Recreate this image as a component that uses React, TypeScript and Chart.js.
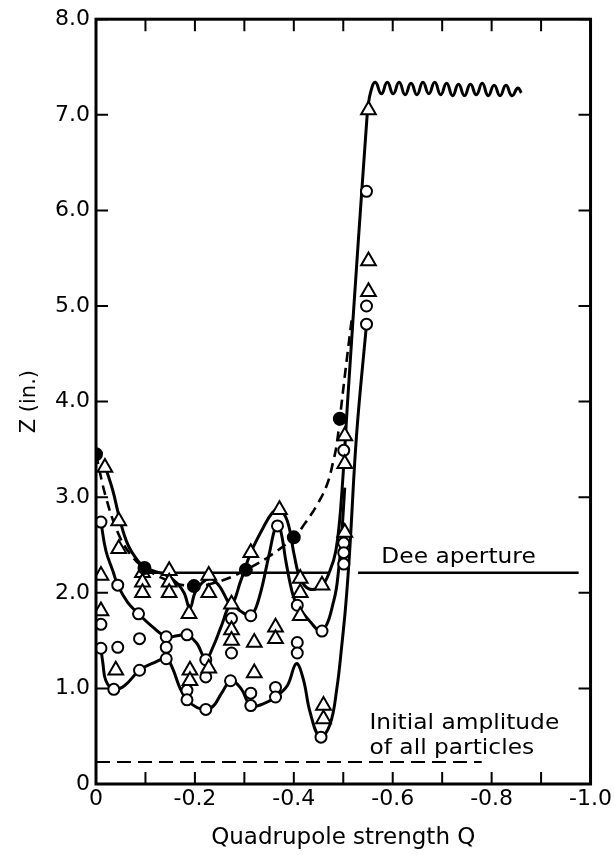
import { useEffect, useRef } from 'react';
import { Chart, registerables } from 'chart.js';

Chart.register(...registerables);

type P = [number, number];

// ---- axis ticks ----
const xTickValues = [0, -0.2, -0.4, -0.6, -0.8, -1.0];
const xTickLabels = ['0', '-0.2', '-0.4', '-0.6', '-0.8', '-1.0'];
const xTickMarks = [0, -0.1, -0.2, -0.3, -0.4, -0.5, -0.6, -0.7, -0.8, -0.9, -1.0];
const yTickValues = [0, 1, 2, 3, 4, 5, 6, 7, 8];
const yTickLabels = ['0', '1.0', '2.0', '3.0', '4.0', '5.0', '6.0', '7.0', '8.0'];

// ---- curves (Q, Z) ----
const topCurve: P[] = [
  [-0.018, 3.33], [-0.034, 3.07], [-0.048, 2.77], [-0.064, 2.51], [-0.084, 2.34],
  [-0.1, 2.26], [-0.144, 2.18], [-0.164, 2.1], [-0.178, 2.0], [-0.19, 1.84],
  [-0.202, 2.02], [-0.228, 2.15], [-0.248, 2.08], [-0.273, 1.89], [-0.293, 2.13],
  [-0.313, 2.42], [-0.337, 2.67], [-0.357, 2.84], [-0.371, 2.87], [-0.387, 2.75],
  [-0.401, 2.39], [-0.413, 2.15], [-0.431, 2.04], [-0.457, 2.08], [-0.473, 2.23],
  [-0.485, 2.44], [-0.495, 2.9], [-0.51, 4.1], [-0.53, 5.65], [-0.549, 7.05],
];
const topWiggle: P[] = [
  [-0.549, 7.05], [-0.556, 7.25], [-0.565, 7.34], [-0.577, 7.22], [-0.589, 7.34],
  [-0.601, 7.22], [-0.613, 7.34], [-0.625, 7.21], [-0.637, 7.33], [-0.649, 7.21],
  [-0.661, 7.34], [-0.673, 7.22], [-0.685, 7.34], [-0.697, 7.21], [-0.709, 7.33],
  [-0.721, 7.2], [-0.733, 7.32], [-0.745, 7.2], [-0.757, 7.32], [-0.769, 7.21],
  [-0.781, 7.33], [-0.793, 7.2], [-0.805, 7.31], [-0.817, 7.2], [-0.829, 7.31],
  [-0.841, 7.2], [-0.853, 7.28], [-0.86, 7.23],
];
const middleCurve: P[] = [
  [-0.01, 2.74], [-0.02, 2.44], [-0.034, 2.23], [-0.044, 2.08], [-0.064, 1.9],
  [-0.086, 1.78], [-0.115, 1.64], [-0.142, 1.54], [-0.164, 1.55], [-0.184, 1.56],
  [-0.204, 1.47], [-0.222, 1.31], [-0.238, 1.45], [-0.254, 1.66], [-0.272, 1.87],
  [-0.292, 1.81], [-0.313, 1.76], [-0.33, 1.95], [-0.35, 2.4], [-0.364, 2.7],
  [-0.372, 2.68], [-0.385, 2.3], [-0.398, 1.98], [-0.407, 1.87], [-0.431, 1.71],
  [-0.457, 1.6], [-0.481, 1.92], [-0.491, 2.26], [-0.497, 2.62], [-0.503, 3.1],
];
const lowerCurve: P[] = [
  [-0.01, 1.42], [-0.014, 1.26], [-0.02, 1.08], [-0.036, 0.99], [-0.058, 1.03],
  [-0.088, 1.19], [-0.118, 1.27], [-0.142, 1.31], [-0.154, 1.22], [-0.17, 1.0],
  [-0.184, 0.88], [-0.204, 0.8], [-0.222, 0.78], [-0.238, 0.82], [-0.254, 0.95],
  [-0.273, 1.08], [-0.293, 1.0], [-0.313, 0.82], [-0.339, 0.84], [-0.363, 0.91],
  [-0.387, 1.03], [-0.405, 1.26], [-0.419, 1.1], [-0.433, 0.75], [-0.453, 0.49],
  [-0.473, 0.62], [-0.487, 1.0], [-0.497, 1.45], [-0.505, 1.87], [-0.513, 2.44],
  [-0.527, 3.66], [-0.547, 4.81],
];
const dashedCurve: P[] = [
  [0, 3.45], [-0.02, 3.0], [-0.045, 2.62], [-0.07, 2.4], [-0.098, 2.26],
  [-0.15, 2.12], [-0.198, 2.07], [-0.25, 2.12], [-0.303, 2.24], [-0.35, 2.38],
  [-0.4, 2.58], [-0.423, 2.73], [-0.447, 2.92], [-0.467, 3.13], [-0.48, 3.38],
  [-0.487, 3.56], [-0.493, 3.82], [-0.505, 4.35], [-0.518, 4.9],
];
const deeAperture: P[] = [[-0.105, 2.21], [-0.472, 2.21], [-0.5, NaN], [-0.53, 2.21], [-0.976, 2.21]];
const initialAmplitude: P[] = [[0, 0.23], [-0.78, 0.23]];

// ---- measured points ----
const triangles: P[] = [
  [-0.018, 3.31], [-0.046, 2.75], [-0.046, 2.46], [-0.01, 2.18], [-0.01, 1.81], [-0.04, 1.19],
  [-0.094, 2.21], [-0.094, 2.11], [-0.094, 2.0],
  [-0.148, 2.23], [-0.148, 2.11], [-0.148, 2.0],
  [-0.188, 1.78], [-0.19, 1.19], [-0.19, 1.08],
  [-0.228, 2.18], [-0.228, 2.0], [-0.228, 1.21],
  [-0.274, 1.88], [-0.274, 1.61], [-0.274, 1.5],
  [-0.313, 2.42], [-0.32, 1.48], [-0.32, 1.16],
  [-0.371, 2.87], [-0.363, 1.64], [-0.363, 1.52],
  [-0.413, 2.15], [-0.413, 2.0], [-0.413, 1.76],
  [-0.457, 2.08], [-0.46, 0.82], [-0.46, 0.68],
  [-0.503, 3.64], [-0.503, 3.35], [-0.503, 2.63],
  [-0.551, 7.05], [-0.551, 5.47], [-0.551, 5.15],
];
const openCircles: P[] = [
  [-0.01, 2.74], [-0.01, 1.67], [-0.01, 1.42],
  [-0.044, 2.08], [-0.044, 1.43], [-0.036, 0.99],
  [-0.086, 1.78], [-0.088, 1.52], [-0.088, 1.19],
  [-0.142, 1.54], [-0.142, 1.43], [-0.142, 1.31],
  [-0.184, 1.56], [-0.184, 0.98], [-0.184, 0.88],
  [-0.222, 1.3], [-0.222, 1.12], [-0.222, 0.78],
  [-0.274, 1.73], [-0.274, 1.37], [-0.272, 1.08],
  [-0.313, 1.76], [-0.313, 0.95], [-0.313, 0.82],
  [-0.367, 2.7], [-0.363, 1.01], [-0.363, 0.91],
  [-0.407, 1.87], [-0.407, 1.48], [-0.407, 1.37],
  [-0.457, 1.6], [-0.455, 0.49],
  [-0.501, 3.49], [-0.501, 2.52], [-0.501, 2.42], [-0.501, 2.3],
  [-0.547, 6.2], [-0.547, 5.0], [-0.547, 4.81],
];
const filledCircles: P[] = [
  [0, 3.45], [-0.098, 2.26], [-0.198, 2.07], [-0.303, 2.24], [-0.4, 2.58], [-0.493, 3.82],
];

// ---- annotation text and anchors ----
const noteTexts = ['Dee aperture', 'Initial amplitude', 'of all particles'];
const noteQ = [-0.577, -0.553, -0.553];
const noteZ = [2.31, 0.58, 0.31];

const FONT = '"DejaVu Sans", sans-serif';
const INK = '#000';
const TICK = 12;

const toXY = (d: P[]) => d.map(([x, y]) => ({ x, y }));

const lineDs = (d: P[], extra: Record<string, unknown> = {}) => ({
  type: 'line' as const,
  data: toXY(d),
  borderColor: INK,
  borderWidth: 3,
  pointRadius: 0,
  tension: 0.4,
  fill: false,
  spanGaps: false,
  order: 2,
  ...extra,
});

const markerDs = (d: P[], style: string, radius: number, bg: string) => ({
  type: 'scatter' as const,
  data: toXY(d),
  showLine: false,
  pointStyle: style,
  pointRadius: radius,
  pointBorderWidth: 2,
  pointBorderColor: INK,
  pointBackgroundColor: bg,
  borderColor: INK,
  backgroundColor: bg,
  order: 0,
});

const framePlugin = {
  id: 'frameAndNotes',
  afterDatasetsDraw(chart: any) {
    const { ctx, chartArea: a, scales } = chart;
    const x = scales.x;
    const y = scales.y;
    ctx.save();
    ctx.strokeStyle = INK;
    ctx.lineWidth = 3;
    ctx.strokeRect(a.left, a.top, a.right - a.left, a.bottom - a.top);
    ctx.lineWidth = 2;
    ctx.beginPath();
    for (const v of xTickMarks) {
      const px = x.getPixelForValue(v);
      ctx.moveTo(px, a.bottom);
      ctx.lineTo(px, a.bottom - TICK);
      ctx.moveTo(px, a.top);
      ctx.lineTo(px, a.top + TICK);
    }
    for (const v of yTickValues) {
      const py = y.getPixelForValue(v);
      ctx.moveTo(a.left, py);
      ctx.lineTo(a.left + TICK, py);
      ctx.moveTo(a.right, py);
      ctx.lineTo(a.right - TICK, py);
    }
    ctx.stroke();
    ctx.fillStyle = INK;
    ctx.font = `22px ${FONT}`;
    ctx.textAlign = 'left';
    ctx.textBaseline = 'alphabetic';
    noteTexts.forEach((t, i) => {
      const px = x.getPixelForValue(noteQ[i]);
      const py = y.getPixelForValue(noteZ[i]);
      ctx.save();
      ctx.translate(px, py);
      ctx.scale(1.06, 1);
      ctx.fillText(t, 0, 0);
      ctx.restore();
    });
    ctx.restore();
  },
};

export default function App() {
  const ref = useRef<HTMLCanvasElement>(null);
  useEffect(() => {
    if (!ref.current) return;
    const chart = new Chart(ref.current, {
      type: 'scatter',
      data: {
        datasets: [
          markerDs(filledCircles, 'circle', 6, INK),
          markerDs(triangles, 'triangle', 8.5, '#fff'),
          markerDs(openCircles, 'circle', 5.5, '#fff'),
          lineDs(topCurve),
          lineDs(topWiggle, { tension: 0.5 }),
          lineDs(middleCurve),
          lineDs(lowerCurve),
          lineDs(dashedCurve, { borderDash: [10, 6], borderWidth: 2.6 }),
          lineDs(deeAperture, { tension: 0, borderWidth: 2.4 }),
          lineDs(initialAmplitude, { tension: 0, borderWidth: 2.2, borderDash: [14, 7] }),
        ] as any,
      },
      plugins: [framePlugin],
      options: {
        animation: false,
        responsive: false,
        devicePixelRatio: 1,
        events: [],
        layout: { padding: { left: 0, top: 17, right: 17, bottom: 0 } },
        plugins: { legend: { display: false }, tooltip: { enabled: false } },
        scales: {
          x: {
            type: 'linear',
            min: -1,
            max: 0,
            reverse: true,
            afterFit: (s: any) => { s.height = 71; },
            afterBuildTicks: (s: any) => { s.ticks = xTickValues.map((v) => ({ value: v })); },
            grid: { display: false, drawTicks: false },
            border: { display: false },
            ticks: {
              padding: 2,
              color: INK,
              font: { family: FONT, size: 22 },
              maxRotation: 0,
              autoSkip: false,
              callback: (v: any) => xTickLabels[xTickValues.findIndex((t) => Math.abs(t - Number(v)) < 1e-9)] ?? '',
            },
            title: {
              display: true,
              text: 'Quadrupole strength Q',
              color: INK,
              font: { family: FONT, size: 23 },
              padding: { top: 0, bottom: 3 },
            },
          },
          y: {
            type: 'linear',
            min: 0,
            max: 8,
            afterFit: (s: any) => { s.width = 96; },
            afterBuildTicks: (s: any) => { s.ticks = yTickValues.map((v) => ({ value: v })); },
            grid: { display: false, drawTicks: false },
            border: { display: false },
            ticks: {
              padding: 6,
              color: INK,
              font: { family: FONT, size: 22 },
              autoSkip: false,
              callback: (v: any) => yTickLabels[yTickValues.indexOf(Number(v))] ?? '',
            },
            title: {
              display: true,
              text: 'Z (in.)',
              color: INK,
              font: { family: FONT, size: 21 },
              padding: { top: 17, bottom: 0 },
            },
          },
        },
      } as any,
    });
    return () => chart.destroy();
  }, []);
  return (
    <div style={{ position: 'fixed', left: 0, top: 0, width: 614, height: 855, background: '#fff' }}>
      <canvas ref={ref} width={614} height={855} style={{ display: 'block' }} />
    </div>
  );
}
